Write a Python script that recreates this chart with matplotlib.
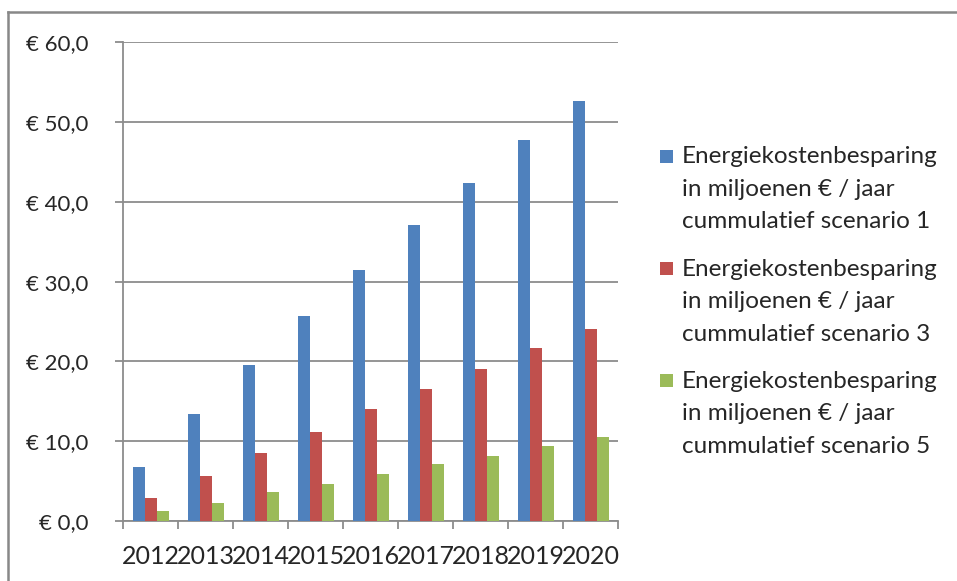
import matplotlib
matplotlib.use("Agg")
import matplotlib.pyplot as plt
from matplotlib.lines import Line2D
from matplotlib.patches import Rectangle
from matplotlib.ticker import FixedLocator, FuncFormatter
import numpy as np

plt.rcParams['font.family'] = ['Lato', 'DejaVu Sans']

years = ['2012', '2013', '2014', '2015', '2016', '2017', '2018', '2019', '2020']
scenario_1 = [6.8, 13.4, 19.6, 25.7, 31.5, 37.1, 42.4, 47.7, 52.7]
scenario_3 = [2.9, 5.6, 8.5, 11.2, 14.0, 16.5, 19.1, 21.7, 24.1]
scenario_5 = [1.2, 2.3, 3.6, 4.7, 5.9, 7.1, 8.2, 9.4, 10.5]

series_labels = [
    ['Energiekostenbesparing', 'in miljoenen € / jaar', 'cummulatief scenario 1'],
    ['Energiekostenbesparing', 'in miljoenen € / jaar', 'cummulatief scenario 3'],
    ['Energiekostenbesparing', 'in miljoenen € / jaar', 'cummulatief scenario 5'],
]
colors = ['#4F81BD', '#C0504D', '#9BBB59']
grid_color = '#8c8c8c'
text_color = '#262626'

W, H = 957, 581
fig = plt.figure(figsize=(W / 100, H / 100), dpi=100)
ax = fig.add_axes([123.3 / W, 1 - 521 / H, (618 - 123.3) / W, (521 - 42.3) / H])

x = np.arange(len(years))
bar_w = 12 / 55
for i, (vals, col) in enumerate(zip([scenario_1, scenario_3, scenario_5], colors)):
    ax.bar(x + (i - 1) * bar_w, vals, width=bar_w, color=col,
           label=' '.join(series_labels[i]), edgecolor='none', zorder=3)

ax.set_xlim(-0.5, len(years) - 0.5)
ax.set_ylim(0, 60)
ax.set_yticks(np.arange(0, 61, 10))
ax.yaxis.set_major_formatter(FuncFormatter(lambda v, p: '€ ' + f'{v:.1f}'.replace('.', ',')))
ax.grid(axis='y', color=grid_color, linewidth=1.3, zorder=0)

ax.set_xticks(x)
ax.set_xticklabels(years)
ax.xaxis.set_minor_locator(FixedLocator(np.arange(-0.5, len(years), 1.0)))
ax.tick_params(axis='x', which='major', length=0, pad=17, labelsize=18, labelcolor=text_color)
ax.tick_params(axis='x', which='minor', length=6, width=1.3, color=grid_color, direction='out')
ax.tick_params(axis='y', which='major', length=6, width=1.3, color=grid_color, pad=19,
               labelsize=16, labelcolor=text_color)

for s in ['top', 'right']:
    ax.spines[s].set_visible(False)
for s in ['left', 'bottom']:
    ax.spines[s].set_color(grid_color)
    ax.spines[s].set_linewidth(1.3)

# legend: colour square beside the first line of each three-line label
first_baseline = 163.3
entry_step = 112.3
line_step = 32.5
for i, (col, lines) in enumerate(zip(colors, series_labels)):
    base = first_baseline + i * entry_step
    fig.add_artist(Rectangle((660 / W, 1 - (base - 0.5) / H), 13 / W, 13 / H,
                             transform=fig.transFigure, facecolor=col, edgecolor='none'))
    for j, line in enumerate(lines):
        fig.text(682 / W, 1 - (base + j * line_step) / H, line, fontsize=17.5,
                 color=text_color, va='baseline', ha='left')

# chart frame edges
fig.add_artist(Line2D([8 / W, 8 / W], [0, 1 - 12 / H], transform=fig.transFigure,
                      color='#888888', linewidth=1.8))
fig.add_artist(Line2D([8 / W, 1], [1 - 12 / H, 1 - 12 / H], transform=fig.transFigure,
                      color='#888888', linewidth=1.8))

fig.savefig('out.png', dpi=100)
